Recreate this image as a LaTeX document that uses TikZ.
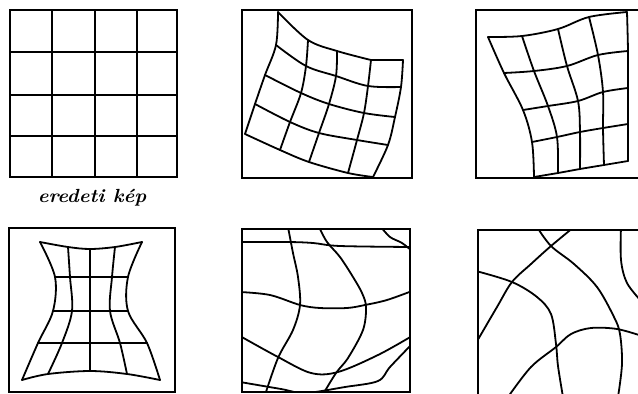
\documentclass[tikz,border=0pt]{standalone}
\begin{document}
\begin{tikzpicture}[x=1pt,y=-1pt,
  frame/.style={line width=2.3pt},
  gl/.style={line width=1.8pt, line join=round, line cap=round},
  sm/.style={smooth, tension=0.55}]
\useasboundingbox (0,0) rectangle (638,394);
\clip (0,0) rectangle (638,394);
\fill[white] (0,0) rectangle (638,394);

% ---------- panel 1 : original grid ----------
\draw[line width=2.6pt] (10,10) rectangle (177,177);
\foreach \v in {95,137} \draw[line width=1.8pt] (\v,10) -- (\v,177);
\draw[line width=2.8pt] (52,10) -- (52,177);
\draw[line width=2.3pt] (10,52) -- (177,52);
\foreach \h in {95,136} \draw[line width=1.9pt] (10,\h) -- (177,\h);
\node[font=\fontsize{19}{22}\selectfont\bfseries\itshape, xscale=1.06] (label) at (92,198) {eredeti kép};

% ---------- panel 2 ----------
\draw[frame] (242,10) rectangle (412,178);
% rows
\draw[gl] plot[sm] coordinates {(278,12) (308,40) (337,51) (371,60)} -- (403,60);
\draw[gl] plot[sm] coordinates {(276,45) (306,66) (336,76) (368,86) (401,87)};
\draw[gl] plot[sm] coordinates {(265,75) (301,93) (329,104) (364,113) (395,117)};
\draw[gl] plot[sm] coordinates {(255,104) (290,122) (319,133) (357,140) (388,145)};
\draw[gl] plot[sm] coordinates {(245,134) (280,150) (309,162) (348,173) (373,177)};
% columns
\draw[gl] plot[sm] coordinates {(278,12) (276,45) (265,75) (255,104) (245,134)};
\draw[gl] plot[sm] coordinates {(308,40) (306,66) (301,93) (290,122) (280,150)};
\draw[gl] plot[sm] coordinates {(337,51) (336,76) (329,104) (319,133) (309,162)};
\draw[gl] plot[sm] coordinates {(371,60) (368,86) (364,113) (357,140) (348,173)};
\draw[gl] plot[sm] coordinates {(403,60) (401,87) (395,117) (388,145) (373,177)};

% ---------- panel 3 ----------
\draw[frame] (476,10) rectangle (660,178);
% rows
\draw[gl] plot[sm] coordinates {(488,37) (522,36) (558,29) (589,17) (627,12)};
\draw[gl] plot[sm] coordinates {(504,73) (534,71) (567,66) (598,55) (628,51)};
\draw[gl] plot[sm] coordinates {(523,110) (548,106) (578,101) (603,92) (628,88)};
\draw[gl] plot[sm] coordinates {(532,142) (557,137) (580,132) (603,128) (628,124)};
\draw[gl] plot[sm] coordinates {(534,177) (558,173) (580,169) (604,165) (628,161)};
% columns
\draw[gl] plot[sm] coordinates {(488,37) (504,73) (523,110) (532,142) (534,177)};
\draw[gl] plot[sm] coordinates {(522,36) (534,71) (548,106) (557,137) (558,173)};
\draw[gl] plot[sm] coordinates {(558,29) (567,66) (578,101) (580,132) (580,169)};
\draw[gl] plot[sm] coordinates {(589,17) (598,55) (603,92) (603,128) (604,165)};
\draw[gl] plot[sm] coordinates {(627,12) (628,51) (628,88) (628,124) (628,161)};

% ---------- panel 4 ----------
\draw[frame] (9,228) rectangle (175,392);
% rows
\draw[gl] plot[sm] coordinates {(40,242) (68,247) (90,249) (115,247) (142,242)};
\draw[gl] (55,277) -- (128,277);
\draw[gl] (53,311) -- (128,311);
\draw[gl] (38,343) -- (147,343);
\draw[gl] plot[sm] coordinates {(22,380) (48,374) (90,371) (127,374) (160,380)};
% columns
\draw[gl] plot[sm] coordinates {(40,242) (55,277) (53,311) (38,343) (22,380)};
\draw[gl] plot[sm] coordinates {(68,247) (70,277) (72,311) (62,343) (48,374)};
\draw[gl] (90,249) -- (90,371);
\draw[gl] plot[sm] coordinates {(115,247) (112,277) (110,311) (120,343) (127,374)};
\draw[gl] plot[sm] coordinates {(142,242) (128,277) (128,311) (147,343) (160,380)};

% ---------- panel 5 ----------
\draw[frame] (242,229) rectangle (410,392);
\begin{scope}
\clip (242,229) rectangle (410,392);
\draw[gl] plot[sm] coordinates {(240,242) (288,242) (313,243) (340,246) (412,247)};
\draw[gl] plot[sm] coordinates {(288,227) (293,253) (298,277) (300,305) (293,330) (278,358) (265,395)};
\draw[gl] plot[sm] coordinates {(319,227) (327,242) (340,257) (353,277) (362,293) (366,307) (363,330) (348,358) (336,373) (322,396)};
\draw[gl] plot[sm] coordinates {(381,227) (390,237) (402,243) (412,251)};
\draw[gl] plot[sm] coordinates {(240,292) (270,295) (300,305) (320,308) (347,308) (365,305) (387,300) (412,291)};
\draw[gl] plot[sm] coordinates {(240,336) (278,357) (311,373) (338,372) (378,355) (412,336)};
\draw[gl] plot[sm] coordinates {(240,382) (281,389) (305,393) (345,387) (378,381) (390,367) (412,344)};
\end{scope}

% ---------- panel 6 ----------
\draw[frame] (478,230) rectangle (660,395);
\begin{scope}
\clip (478,230) rectangle (660,395);
\draw[gl] plot[sm] coordinates {(537,227) (551,246) (574,264) (597,287) (614,317) (620,334) (622,364) (618,397)};
\draw[gl] plot[sm] coordinates {(574,227) (551,246) (531,264) (512,282) (497,307) (476,343)};
\draw[gl] plot[sm] coordinates {(476,271) (512,282) (537,297) (551,314) (556,344) (558,366) (563,397)};
\draw[gl] plot[sm] coordinates {(508,397) (531,367) (556,347) (571,334) (591,328) (617,329) (642,336)};
\draw[gl] plot[sm] coordinates {(621,227) (621,260) (627,283) (642,302)};
\end{scope}
\end{tikzpicture}
\end{document}
